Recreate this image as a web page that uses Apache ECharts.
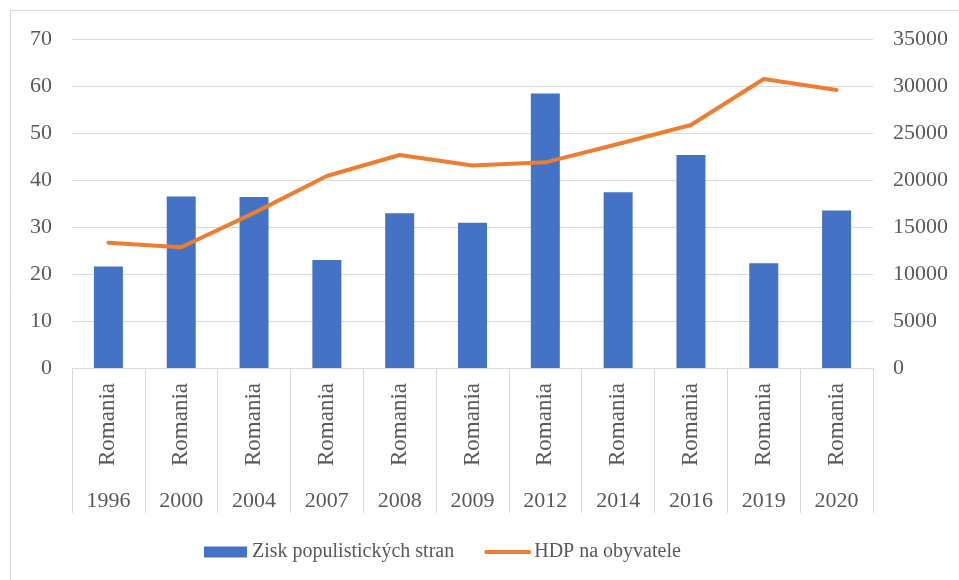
<!DOCTYPE html>
<html>
<head>
<meta charset="utf-8">
<script src="https://cdn.jsdelivr.net/npm/echarts@6/dist/echarts.min.js"></script>
<style>
  html, body { margin: 0; padding: 0; background: #fff; }
  #chart { width: 959px; height: 580px; }
</style>
</head>
<body>
<div id="chart"></div>
<script>
  // data
  const years = ['1996', '2000', '2004', '2007', '2008', '2009', '2012', '2014', '2016', '2019', '2020']
  const countries = ['Romania', 'Romania', 'Romania', 'Romania', 'Romania', 'Romania', 'Romania', 'Romania', 'Romania', 'Romania', 'Romania']
  const populistGain = [21.6, 36.5, 36.4, 23.0, 32.9, 30.9, 58.4, 37.4, 45.3, 22.3, 33.5]
  const gdpPerCapita = [13330, 12840, 16500, 20430, 22660, 21550, 21880, 23830, 25850, 30750, 29580]
  const leftTicks = { min: 0, max: 70, interval: 10 }
  const rightTicks = { min: 0, max: 35000, interval: 5000 }

  const font = 'Liberation Serif'
  const textColor = '#595959'
  const lineGray = '#d9d9d9'

  const chart = echarts.init(document.getElementById('chart'))

  const options = {
    animation: false,
    textStyle: { fontFamily: font },
    graphic: [{
      type: 'rect',
      shape: { x: 10.5, y: 10.5, width: 1000, height: 1000 },
      style: { fill: 'none', stroke: lineGray, lineWidth: 1 },
      silent: true
    }],
    grid: {
      left: 72,
      right: 86,
      top: 39,
      bottom: 212
    },
    legend: {
      left: 199,
      top: 537,
      itemGap: 30,
      itemWidth: 43,
      itemHeight: 11,
      textStyle: { fontFamily: font, fontSize: 20, color: textColor },
      data: [
        { name: 'Zisk populistických stran', icon: 'rect' },
        {
          name: 'HDP na obyvatele',
          itemStyle: { opacity: 0 },
          lineStyle: { width: 4, cap: 'round', color: '#ED7D31' }
        }
      ]
    },
    xAxis: [
      {
        type: 'category',
        data: countries,
        position: 'bottom',
        axisLine: { lineStyle: { color: lineGray, width: 1 } },
        axisTick: { show: true, length: 145, interval: 0, lineStyle: { color: lineGray } },
        axisLabel: {
          interval: 0,
          rotate: 90,
          margin: 15,
          fontFamily: font,
          fontSize: 23,
          color: textColor
        }
      },
      {
        type: 'category',
        data: years,
        position: 'bottom',
        axisLine: { show: false },
        axisTick: { show: false },
        axisLabel: {
          interval: 0,
          margin: 122,
          fontFamily: font,
          fontSize: 22,
          color: textColor
        }
      }
    ],
    yAxis: [
      {
        type: 'value',
        min: leftTicks.min,
        max: leftTicks.max,
        interval: leftTicks.interval,
        axisLine: { show: false },
        axisTick: { show: false },
        splitLine: { lineStyle: { color: lineGray, width: 1 } },
        axisLabel: { margin: 20, fontFamily: font, fontSize: 22, color: textColor }
      },
      {
        type: 'value',
        min: rightTicks.min,
        max: rightTicks.max,
        interval: rightTicks.interval,
        position: 'right',
        axisLine: { show: false },
        axisTick: { show: false },
        splitLine: { show: false },
        axisLabel: {
          margin: 20,
          fontFamily: font,
          fontSize: 22,
          color: textColor,
          formatter: v => String(v)
        }
      }
    ],
    series: [
      {
        name: 'Zisk populistických stran',
        type: 'bar',
        xAxisIndex: 0,
        yAxisIndex: 0,
        data: populistGain,
        barWidth: 29,
        itemStyle: { color: '#4472C4' }
      },
      {
        name: 'HDP na obyvatele',
        type: 'line',
        xAxisIndex: 0,
        yAxisIndex: 1,
        data: gdpPerCapita,
        symbol: 'none',
        lineStyle: { color: '#ED7D31', width: 4, cap: 'round', join: 'round' },
        itemStyle: { color: '#ED7D31' }
      }
    ]
  }

  chart.setOption(options)
</script>
</body>
</html>
